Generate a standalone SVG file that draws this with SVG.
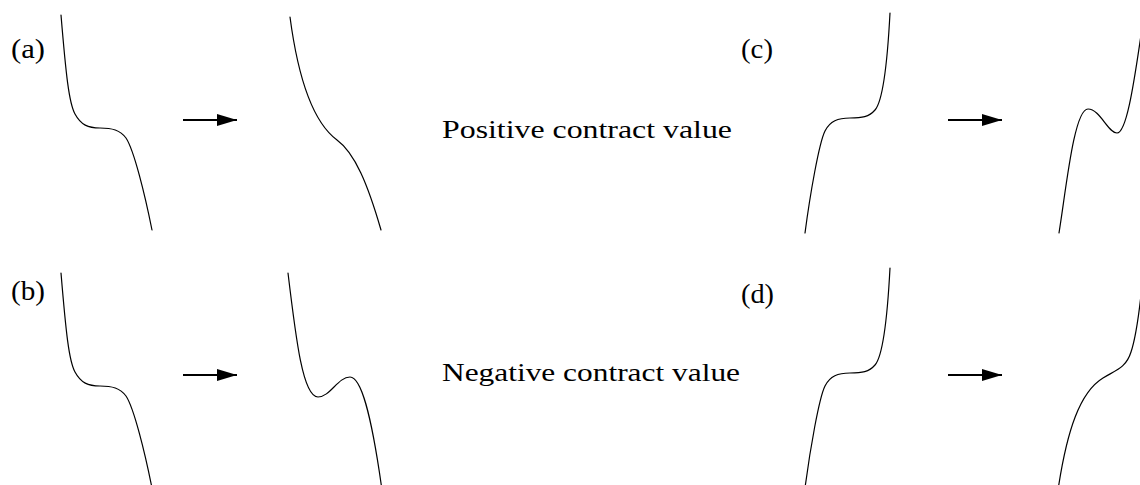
<svg xmlns="http://www.w3.org/2000/svg" width="1140" height="485" viewBox="0 0 1140 485">
<style>
.curve{fill:none;stroke:#000;stroke-width:1.2;stroke-linecap:round}
.arrow{fill:none;stroke:#000;stroke-width:2}
.lbl{font-family:"Liberation Serif","Times New Roman",serif;font-size:26px;fill:#000}
.tag{font-family:"Liberation Serif","Times New Roman",serif;font-size:28px;fill:#000}
</style>
<defs>
<marker id="ah" markerUnits="userSpaceOnUse" markerWidth="22" markerHeight="12" refX="20" refY="6" orient="auto">
<path d="M0,0 L20,6 L0,12 Z" fill="#000"/>
</marker>
</defs>
<rect width="1140" height="485" fill="#fff"/>

<g id="panel-a">
<text class="tag" x="11" y="58" textLength="34" lengthAdjust="spacingAndGlyphs">(a)</text>
<path class="curve" d="M61,15 C66,75 69,103 75,114 C81,125 88,128 100,128 C112,128 120,130 126,138 C134,150 145,195 152,230"/>
<path class="curve" d="M290,17 C297,70 310,120 337,140 C355,153 368,185 381,230"/>
</g>

<g id="panel-b">
<text class="tag" x="11" y="300" textLength="34" lengthAdjust="spacingAndGlyphs">(b)</text>
<path class="curve" transform="translate(0,258)" d="M61,15 C66,75 69,103 75,114 C81,125 88,128 100,128 C112,128 120,130 126,138 C134,150 145,195 152,230"/>
<path class="curve" d="M288,273 C296,340 303,397 318,397 C330,397 338,377 350,377 C361,377 371,412 382,490"/>
</g>

<g id="panel-c">
<text class="tag" x="741" y="58" textLength="32" lengthAdjust="spacingAndGlyphs">(c)</text>
<path class="curve" d="M890,13 C887,70 882,102 875,110 C869,117 862,118 850,118 C838,118 830,121 825,131 C819,143 810,195 805,233"/>
<path class="curve" d="M1059,233 C1066,190 1074,109 1088,109 C1100,109 1108,133 1117,133 C1126,133 1133,90 1141,35"/>
</g>

<g id="panel-d">
<text class="tag" x="741" y="303" textLength="33" lengthAdjust="spacingAndGlyphs">(d)</text>
<path class="curve" transform="translate(0,255)" d="M890,13 C887,70 882,102 875,110 C869,117 862,118 850,118 C838,118 830,121 825,131 C819,143 810,195 805,233"/>
<path class="curve" d="M1058,490 C1067,430 1080,392 1103,378 C1116,370 1126,368 1131,352 C1135,340 1138,322 1141,295"/>
</g>

<g id="label-positive">
<text class="lbl" x="442" y="138" textLength="290" lengthAdjust="spacingAndGlyphs">Positive contract value</text>
</g>
<g id="label-negative">
<text class="lbl" x="442" y="381" textLength="298" lengthAdjust="spacingAndGlyphs">Negative contract value</text>
</g>

<g id="connectors">
<line class="arrow" x1="183" y1="120" x2="237" y2="120" marker-end="url(#ah)"/>
<line class="arrow" x1="183" y1="375" x2="237" y2="375" marker-end="url(#ah)"/>
<line class="arrow" x1="948" y1="120" x2="1002" y2="120" marker-end="url(#ah)"/>
<line class="arrow" x1="948" y1="375" x2="1002" y2="375" marker-end="url(#ah)"/>
</g>
</svg>
